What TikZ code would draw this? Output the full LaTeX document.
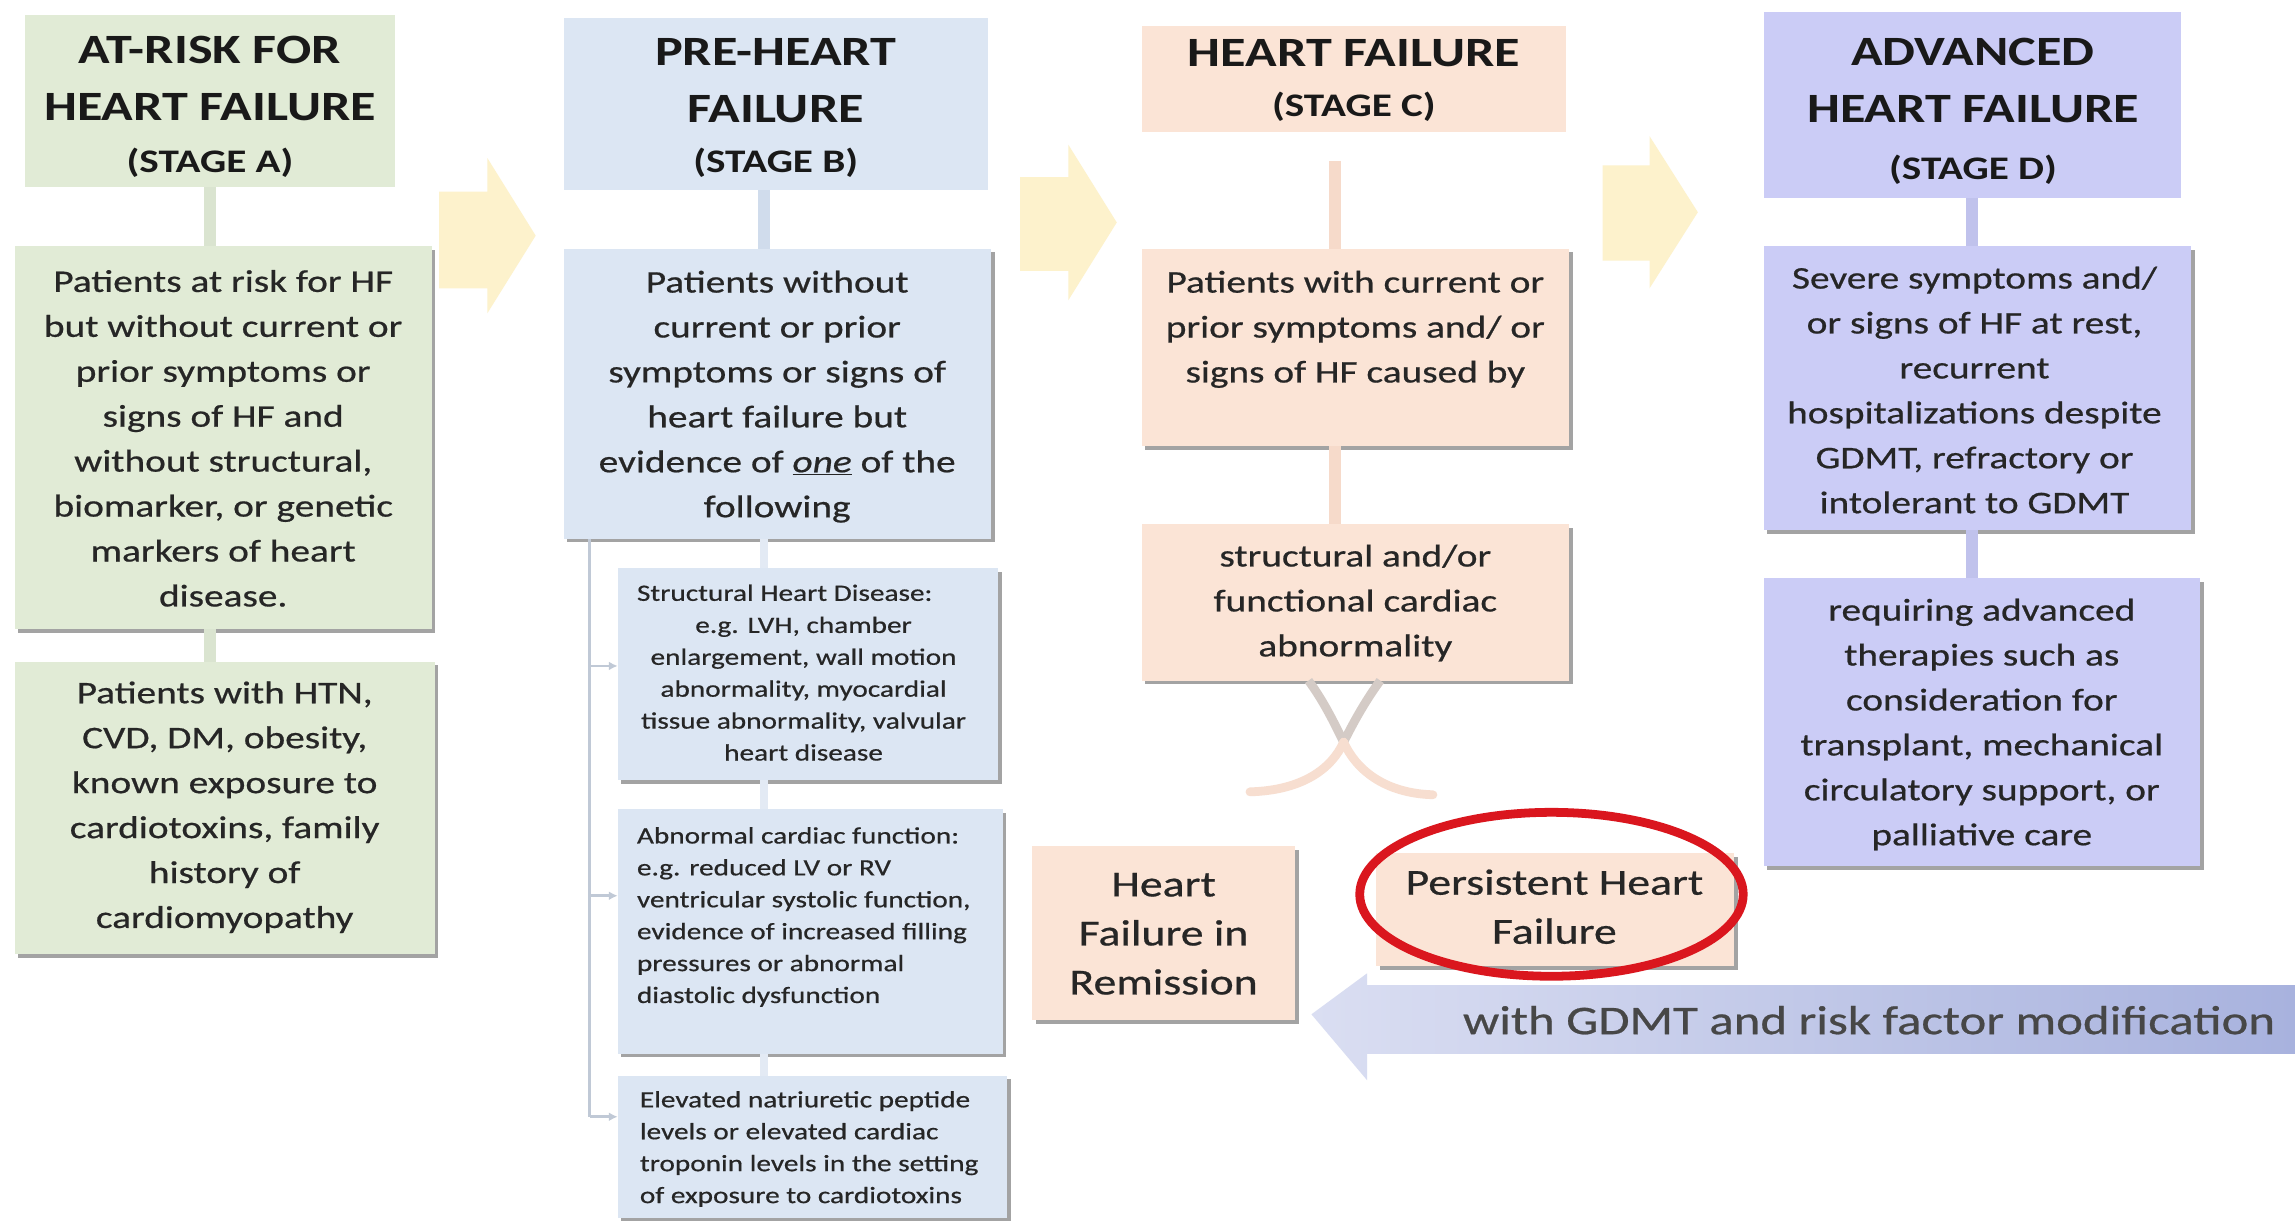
\documentclass[tikz,border=0pt]{standalone}
\usepackage{fontspec}
\setmainfont{Carlito}[FakeStretch=1.25, UprightFeatures={FakeBold=0.6}, ItalicFeatures={FakeBold=0.6}]
\usetikzlibrary{shadows,arrows.meta,calc}
\definecolor{agreen}{RGB}{225,235,214}
\definecolor{bblue}{RGB}{220,230,243}
\definecolor{cpeach}{RGB}{251,228,214}
\definecolor{dlav}{RGB}{203,204,246}
\definecolor{aconn}{RGB}{218,228,208}
\definecolor{bconn}{RGB}{208,220,236}
\definecolor{cconn}{RGB}{246,218,202}
\definecolor{dconn}{RGB}{192,194,236}
\definecolor{txtgray}{RGB}{38,38,38}
\definecolor{yarrow}{RGB}{253,242,204}
\definecolor{redring}{RGB}{218,22,30}
\definecolor{bigR}{RGB}{168,178,222}
\definecolor{bigL}{RGB}{218,222,242}
\definecolor{curvetop}{RGB}{212,203,198}
\definecolor{curvebot}{RGB}{247,222,208}
\newcommand\fhead{\fontsize{28.5}{39}\selectfont\bfseries}
\newcommand\fstage{\fontsize{22.5}{27}\selectfont\bfseries}
\newcommand\fbody{\fontsize{21.5}{30.7}\selectfont}
\newcommand\fsmall{\fontsize{16}{21.8}\selectfont}
\newcommand\fmid{\fontsize{25}{33.5}\selectfont}
\newcommand\fbig{\fontsize{27.8}{32}\selectfont}
\begin{document}
\begin{tikzpicture}[x=1pt,y=-1pt,
  box/.style={draw=none, anchor=north west, inner sep=0pt, outer sep=0pt},
  shad/.style={drop shadow={shadow xshift=2.5pt, shadow yshift=-2.5pt, fill=black!60, opacity=.6}},
  txt/.style={align=center, inner sep=0pt, text=txtgray},
  htxt/.style={align=center, inner sep=0pt, text=black!90},
  conn/.style={line width=8pt},
  bline/.style={draw=bconn!80!gray, line width=2pt},
  btick/.style={bline, -{Latex[length=6pt,width=6pt]}},
  yarr/.style={fill=yarrow},
]
\useasboundingbox[fill=white] (0,0) rectangle (1568,837);

% ---------- yellow progression arrows
\fill[yarr] (300,131) -- (333,131) -- (333,108) -- (366,161) -- (333,214) -- (333,197) -- (300,197) -- cycle;
\fill[yarr] (697,121) -- (730,121) -- (730,99) -- (763,152) -- (730,205) -- (730,185) -- (697,185) -- cycle;
\fill[yarr] (1095,113) -- (1127,113) -- (1127,93) -- (1160,145) -- (1127,197) -- (1127,178) -- (1095,178) -- cycle;

% ---------- column A
\node[box, fill=agreen, minimum width=253, minimum height=118] (ah) at (17,10) {};
\node[box, fill=agreen, shad, minimum width=285, minimum height=262] (a1) at (10,168) {};
\node[box, fill=agreen, shad, minimum width=287, minimum height=200] (a2) at (10,452) {};
\draw[conn, aconn] (ah.south) -- (ah.south |- a1.north);
\draw[conn, aconn] (a1.south -| ah.south) -- (a2.north -| ah.south);
\node[htxt, font=\fhead] (aht) at (143.5,73) {AT-RISK FOR\\HEART FAILURE\\[-3pt]{\fstage (STAGE A)}};
\node[txt, font=\fbody] (a1t) at (152.5,299.5) {Patients at risk for HF\\but without current or\\prior symptoms or\\signs of HF and\\without structural,\\biomarker, or genetic\\markers of heart\\disease.};
\node[txt, font=\fbody] (a2t) at (153.5,551.5) {Patients with HTN,\\CVD, DM, obesity,\\known exposure to\\cardiotoxins, family\\history of\\cardiomyopathy};

% ---------- column B
\node[box, fill=bblue, minimum width=290, minimum height=118] (bh) at (385,12) {};
\node[box, fill=bblue, shad, minimum width=292, minimum height=198] (b1) at (385,170) {};
\node[box, fill=bblue, shad, minimum width=260, minimum height=145] (b2) at (422,388) {};
\node[box, fill=bblue, shad, minimum width=263, minimum height=167] (b3) at (422,553) {};
\node[box, fill=bblue, shad, minimum width=266, minimum height=97] (b4) at (422,735) {};
\draw[conn, bconn] ([xshift=-8pt]bh.south) -- ([xshift=-8pt]bh.south |- b1.north);
\draw[line width=5pt, bconn!60] ([xshift=-9pt]b1.south) -- ([xshift=-9pt]b1.south |- b2.north);
\draw[line width=5pt, bconn!60] ([xshift=-9pt]b1.south |- b2.south) -- ([xshift=-9pt]b1.south |- b3.north);
\draw[line width=5pt, bconn!60] ([xshift=-9pt]b1.south |- b3.south) -- ([xshift=-9pt]b1.south |- b4.north);
\coordinate (bx) at ([xshift=18pt]b1.south west);
\coordinate (b2p) at ([yshift=-67pt]b2.north west);
\coordinate (b3p) at ([yshift=-59pt]b3.north west);
\coordinate (b4p) at ([yshift=-28pt]b4.north west);
\draw[bline] (bx) -- (bx |- b4p);
\draw[btick] (bx |- b2p) -- (b2p);
\draw[btick] (bx |- b3p) -- (b3p);
\draw[btick] (bx |- b4p) -- (b4p);
\node[htxt, font=\fhead] (bht) at (530,74) {PRE-HEART\\FAILURE\\[-5pt]{\fstage (STAGE B)}};
\node[txt, font=\fbody] (b1t) at (531,271) {Patients without\\current or prior\\symptoms or signs of\\heart failure but\\evidence of \underline{\itshape one} of the\\following};
\node[txt, font=\fsmall, anchor=west] (b2h) at (435,405) {Structural Heart Disease:};
\node[txt, font=\fsmall] (b2t) at (549,470.5) {e.g. LVH, chamber\\enlargement, wall motion\\abnormality, myocardial\\tissue abnormality, valvular\\heart disease};
\node[txt, font=\fsmall, align=left, anchor=west] (b3t) at (435,626.5) {Abnormal cardiac function:\\e.g. reduced LV or RV\\ventricular systolic function,\\evidence of increased filling\\pressures or abnormal\\diastolic dysfunction};
\node[txt, font=\fsmall, align=left, anchor=west] (b4t) at (437,785) {Elevated natriuretic peptide\\levels or elevated cardiac\\troponin levels in the setting\\of exposure to cardiotoxins};

% ---------- column C
\node[box, fill=cpeach, minimum width=290, minimum height=72] (ch) at (780,18) {};
\node[box, fill=cpeach, shad, minimum width=292, minimum height=135] (c1) at (780,170) {};
\node[box, fill=cpeach, shad, minimum width=292, minimum height=107] (c2) at (780,358) {};
\draw[conn, cconn] ([xshift=-13pt,yshift=-20pt]ch.south) -- ([xshift=-13pt]ch.south |- c1.north);
\draw[conn, cconn] ([xshift=-13pt]ch.south |- c1.south) -- ([xshift=-13pt]ch.south |- c2.north);
\node[htxt, font=\fhead] (cht) at (925,55) {HEART FAILURE\\[-5pt]{\fstage (STAGE C)}};
\node[txt, font=\fbody] (c1t) at (926,225) {Patients with current or\\prior symptoms and/ or\\signs of HF caused by};
\node[txt, font=\fbody] (c2t) at (926,412) {structural and/or\\functional cardiac\\abnormality};
% split curves below C2
\coordinate (sl) at ([xshift=-32pt]c2.south);
\coordinate (sr) at ([xshift=17pt]c2.south);
\coordinate (sx) at (918,507);
\coordinate (el) at (854,541);
\coordinate (er) at (979,543);
\draw[line width=6pt, curvetop] (sl) .. controls (905,480) and (912,495) .. (sx);
\draw[line width=6pt, curvetop] (sr) .. controls (932,480) and (924,495) .. (sx);
\draw[line width=6pt, curvebot, line cap=round] (sx) .. controls (926,525) and (945,542) .. (er);
\draw[line width=6pt, curvebot, line cap=round] (sx) .. controls (910,525) and (890,540) .. (el);

% ---------- column D
\node[box, fill=dlav, minimum width=285, minimum height=127] (dh) at (1205,8) {};
\node[box, fill=dlav, shad, minimum width=292, minimum height=194] (d1) at (1205,168) {};
\node[box, fill=dlav, shad, minimum width=298, minimum height=197] (d2) at (1205,395) {};
\draw[conn, dconn] (dh.south) -- (dh.south |- d1.north);
\draw[conn, dconn] (d1.south -| dh.south) -- (d2.north -| dh.south);
\node[htxt, font=\fhead] (dht) at (1348,76) {ADVANCED\\HEART FAILURE\\[0pt]{\fstage (STAGE D)}};
\node[txt, font=\fbody] (d1t) at (1349,266.5) {Severe symptoms and/\\or signs of HF at rest,\\recurrent\\hospitalizations despite\\GDMT, refractory or\\intolerant to GDMT};
\node[txt, font=\fbody] (d2t) at (1354,495) {requiring advanced\\therapies such as\\consideration for\\transplant, mechanical\\circulatory support, or\\palliative care};

% ---------- bottom: remission / persistent
\node[box, fill=cpeach, shad, minimum width=180, minimum height=119] (rem) at (705,578) {};
\node[txt, font=\fmid] (remt) at (795,638) {Heart\\Failure in\\Remission};
\node[box, fill=cpeach, shad, minimum width=245, minimum height=77] (per) at (940,583) {};
\node[txt, font=\fmid] (pert) at (1062,619.5) {Persistent Heart\\Failure};
\draw[redring, line width=6pt] (1060,611) ellipse [x radius=131, y radius=56];

% ---------- big left arrow
\shade[left color=bigL, right color=bigR] (1568,673) -- (934,673) -- (934,665) -- (896,693) -- (934,738) -- (934,720) -- (1568,720) -- cycle;
\node[txt, font=\fbig, text=black!72] (gdmt) at (1277,697) {with GDMT and risk factor modification};
\end{tikzpicture}
\end{document}
